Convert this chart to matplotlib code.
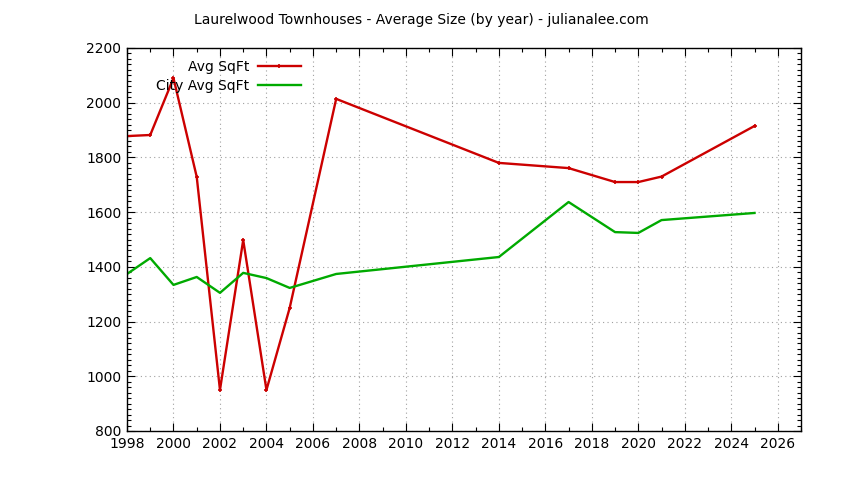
import matplotlib
matplotlib.use('Agg')
import matplotlib.pyplot as plt
from matplotlib.ticker import MultipleLocator

# Average sqft by year
years = [1998, 1999, 2000, 2001, 2002, 2003, 2004, 2005, 2007, 2014, 2017, 2019, 2020, 2021, 2025]
avg_sqft = [1878, 1882, 2090, 1729, 950, 1498, 950, 1250, 2014, 1780, 1761, 1710, 1710, 1730, 1915]
city_avg_sqft = [1374, 1432, 1334, 1363, 1305, 1378, 1359, 1323, 1374, 1436, 1637, 1527, 1524, 1571, 1597]

title = "Laurelwood Townhouses - Average Size (by year) - julianalee.com"

plt.rcParams['font.family'] = ['DejaVu Sans']

fig = plt.figure(figsize=(8.44, 4.8), dpi=100)
ax = fig.add_axes([127 / 844, 1 - 431 / 480, (801 - 127) / 844, (431 - 48) / 480])

ax.plot(years, avg_sqft, color='#cc0000', linewidth=1.7, marker='+', markersize=3,
        markeredgewidth=1.2, label='Avg SqFt')
ax.plot(years, city_avg_sqft, color='#00aa00', linewidth=1.7, label='City Avg SqFt')

ax.set_xlim(1998, 2027)
ax.set_ylim(800, 2200)
ax.xaxis.set_major_locator(MultipleLocator(2))
ax.xaxis.set_minor_locator(MultipleLocator(1))
ax.yaxis.set_major_locator(MultipleLocator(200))
ax.yaxis.set_minor_locator(MultipleLocator(20))

ax.tick_params(which='both', direction='in', top=True, right=True, labelsize=10, pad=4)
ax.tick_params(which='major', length=6, width=0.8)
ax.tick_params(which='minor', length=3, width=0.8)
ax.grid(which='major', color='#a0a0a0', linestyle=(0, (1, 3)), linewidth=0.8)

for s in ax.spines.values():
    s.set_linewidth(1.0)

fig.suptitle(title, x=421 / 844, y=1 - 13 / 480, fontsize=10, va='top')

# gnuplot-style key: right-aligned text followed by the sample line
leg = ax.legend(loc='upper right', markerfirst=False, frameon=False, fontsize=10,
                handlelength=3.1, handletextpad=0.6, labelspacing=0.35,
                borderpad=0, borderaxespad=0,
                bbox_to_anchor=((301 - 127) / 674, 1 - (60 - 48) / 383))

fig.savefig('out.png', dpi=100)
